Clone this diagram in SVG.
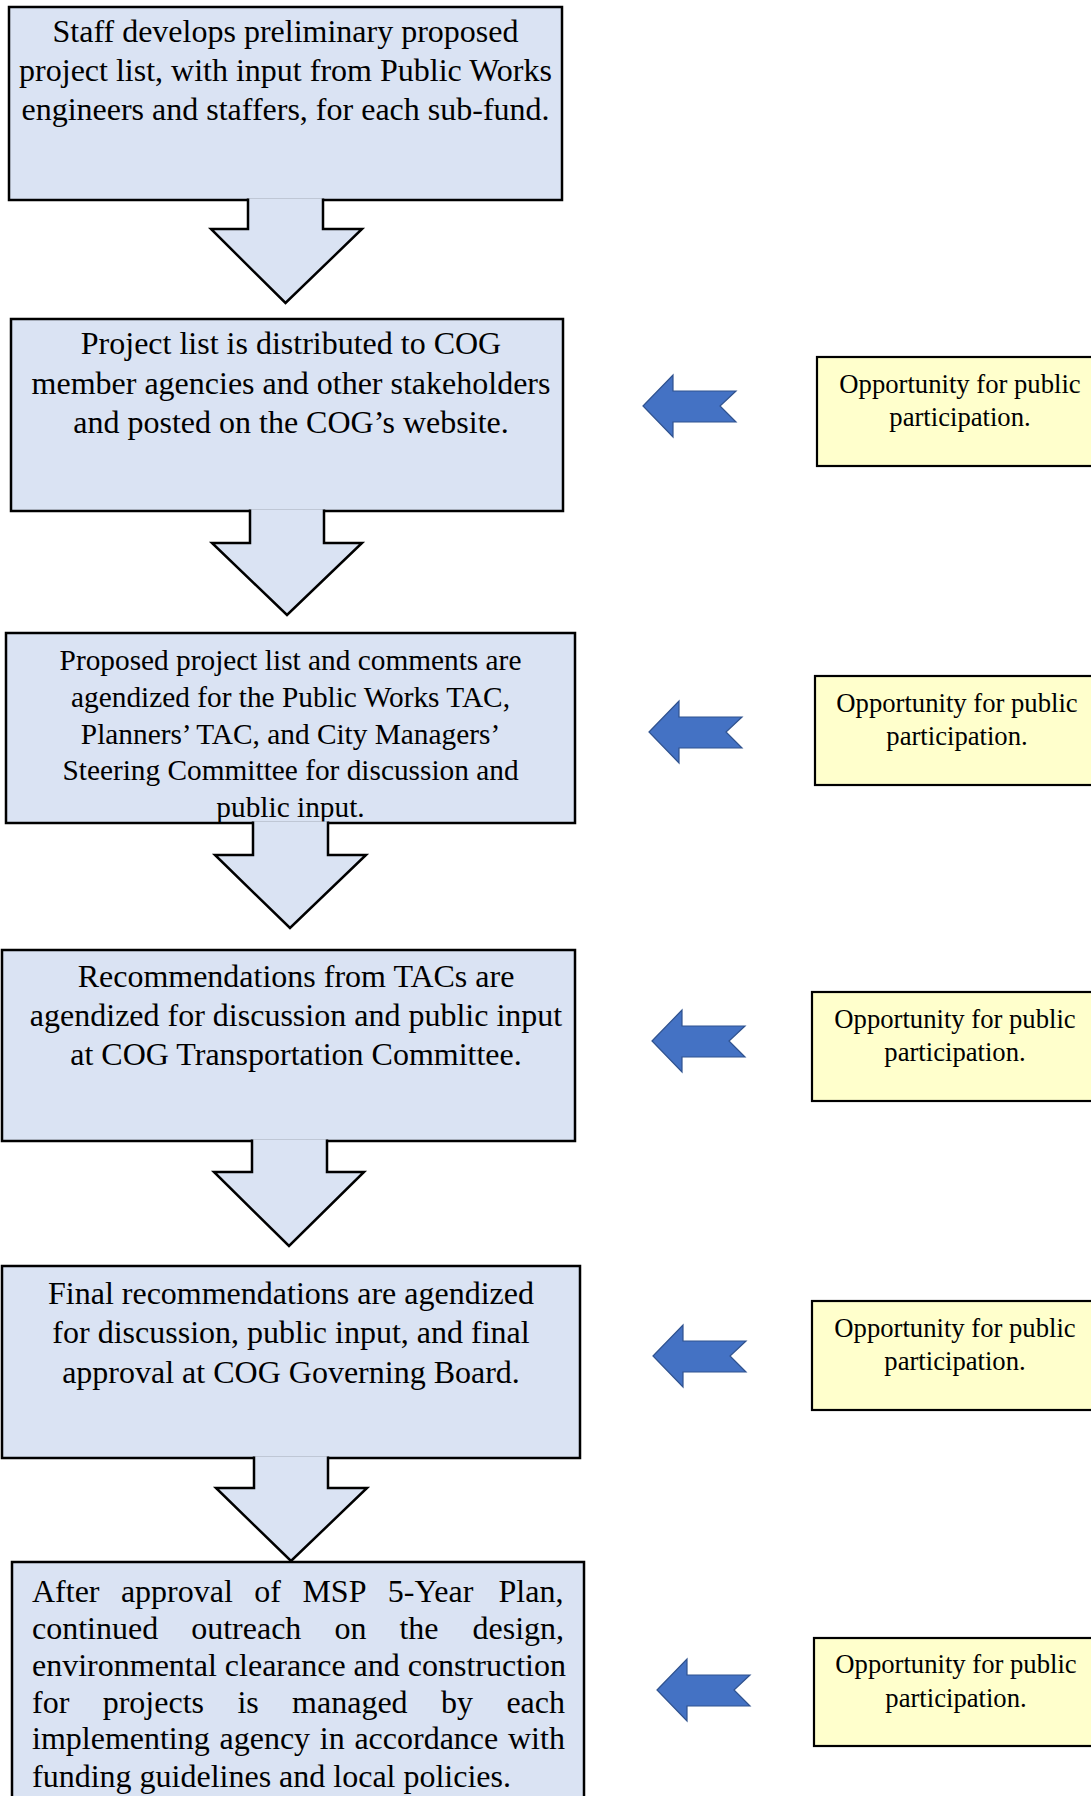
<svg xmlns="http://www.w3.org/2000/svg" width="1091" height="1796" viewBox="0 0 1091 1796">
<style>
.box{fill:#DAE3F3;stroke:#000;stroke-width:2.5}
.down{fill:#DAE3F3;stroke:#000;stroke-width:2.5;stroke-linejoin:miter}
.note{fill:#FFFFCC;stroke:#000;stroke-width:2.2}
.t{font-family:"Liberation Serif","Times New Roman",serif;font-size:32px;fill:#000;text-anchor:middle}
.t3{font-family:"Liberation Serif","Times New Roman",serif;font-size:29.33px;fill:#000;text-anchor:middle}
.tj{font-family:"Liberation Serif","Times New Roman",serif;font-size:32px;fill:#000}
.tn{font-family:"Liberation Serif","Times New Roman",serif;font-size:26.67px;fill:#000;text-anchor:middle}
.blue{fill:#4472C4;stroke:#2F528F;stroke-width:1.2}
</style>
<defs>
<path id="larrow" d="M0,0 L30,-31 L30,-15 L93,-15 L77,0 L93,16 L30,16 L30,31 Z"/>
</defs>
<rect width="1091" height="1796" fill="#fff"/>

<g id="step1">
<rect class="box" x="9" y="7" width="553" height="193"/>
<text class="t" x="285.5" y="42">Staff develops preliminary proposed</text>
<text class="t" x="285.5" y="81">project list, with input from Public Works</text>
<text class="t" x="285.5" y="120">engineers and staffers, for each sub-fund.</text>
</g>

<g id="step2">
<rect class="box" x="11" y="319" width="552" height="192"/>
<text class="t" x="291" y="354">Project list is distributed to COG</text>
<text class="t" x="291" y="394">member agencies and other stakeholders</text>
<text class="t" x="291" y="433">and posted on the COG’s website.</text>
</g>

<g id="step3">
<rect class="box" x="6" y="633" width="569" height="190"/>
<text class="t3" x="290.5" y="670">Proposed project list and comments are</text>
<text class="t3" x="290.5" y="707">agendized for the Public Works TAC,</text>
<text class="t3" x="290.5" y="744">Planners’ TAC, and City Managers’</text>
<text class="t3" x="290.5" y="780">Steering Committee for discussion and</text>
<text class="t3" x="290.5" y="817">public input.</text>
</g>

<g id="step4">
<rect class="box" x="2" y="950" width="573" height="191"/>
<text class="t" x="296" y="987">Recommendations from TACs are</text>
<text class="t" x="296" y="1026">agendized for discussion and public input</text>
<text class="t" x="296" y="1065">at COG Transportation Committee.</text>
</g>

<g id="step5">
<rect class="box" x="2" y="1266" width="578" height="192"/>
<text class="t" x="291" y="1304">Final recommendations are agendized</text>
<text class="t" x="291" y="1343">for discussion, public input, and final</text>
<text class="t" x="291" y="1383">approval at COG Governing Board.</text>
</g>

<g id="step6">
<rect class="box" x="12" y="1562" width="572" height="260"/>
<text class="tj" y="1602"><tspan x="32">After</tspan><tspan x="120.9">approval</tspan><tspan x="254.3">of</tspan><tspan x="302.4">MSP</tspan><tspan x="387.8">5-Year</tspan><tspan x="498.5">Plan,</tspan></text>
<text class="tj" y="1639"><tspan x="32">continued</tspan><tspan x="191.2">outreach</tspan><tspan x="334.4">on</tspan><tspan x="399.4">the</tspan><tspan x="472.5">design,</tspan></text>
<text class="tj" x="32" y="1676">environmental clearance and construction</text>
<text class="tj" y="1713"><tspan x="32">for</tspan><tspan x="102.7">projects</tspan><tspan x="237.4">is</tspan><tspan x="292.1">managed</tspan><tspan x="441">by</tspan><tspan x="506.4">each</tspan></text>
<text class="tj" y="1749"><tspan x="32">implementing</tspan><tspan x="219.5">agency</tspan><tspan x="319.8">in</tspan><tspan x="354.4">accordance</tspan><tspan x="508">with</tspan></text>
<text class="tj" x="32" y="1787">funding guidelines and local policies.</text>
</g>

<g id="note1">
<rect class="note" x="817" y="357" width="290" height="109"/>
<text class="tn" x="960" y="393">Opportunity for public</text>
<text class="tn" x="960" y="426">participation.</text>
</g>
<g id="note2">
<rect class="note" x="815" y="676" width="290" height="109"/>
<text class="tn" x="957" y="712">Opportunity for public</text>
<text class="tn" x="957" y="745">participation.</text>
</g>
<g id="note3">
<rect class="note" x="812" y="992" width="290" height="109"/>
<text class="tn" x="955" y="1028">Opportunity for public</text>
<text class="tn" x="955" y="1061">participation.</text>
</g>
<g id="note4">
<rect class="note" x="812" y="1301" width="290" height="109"/>
<text class="tn" x="955" y="1337">Opportunity for public</text>
<text class="tn" x="955" y="1370">participation.</text>
</g>
<g id="note5">
<rect class="note" x="814" y="1638" width="290" height="108"/>
<text class="tn" x="956" y="1673">Opportunity for public</text>
<text class="tn" x="956" y="1707">participation.</text>
</g>

<g id="connectors">
<path class="down" d="M248,198.5 L248,229 L211,229 L285.5,303 L362,229 L323,229 L323,198.5"/>
<path class="down" d="M250,509.5 L250,543 L212,543 L287,615 L362,543 L324,543 L324,509.5"/>
<path class="down" d="M253,821.5 L253,855 L215,855 L290,928 L366,855 L328,855 L328,821.5"/>
<path class="down" d="M252,1139.5 L252,1172 L214,1172 L289,1246 L364,1172 L327,1172 L327,1139.5"/>
<path class="down" d="M254,1456.5 L254,1488 L216,1488 L291,1561 L367,1488 L328,1488 L328,1456.5"/>
<use href="#larrow" class="blue" x="643" y="406"/>
<use href="#larrow" class="blue" x="649" y="732"/>
<use href="#larrow" class="blue" x="652" y="1041"/>
<use href="#larrow" class="blue" x="653" y="1356"/>
<use href="#larrow" class="blue" x="657" y="1690"/>
</g>
</svg>
